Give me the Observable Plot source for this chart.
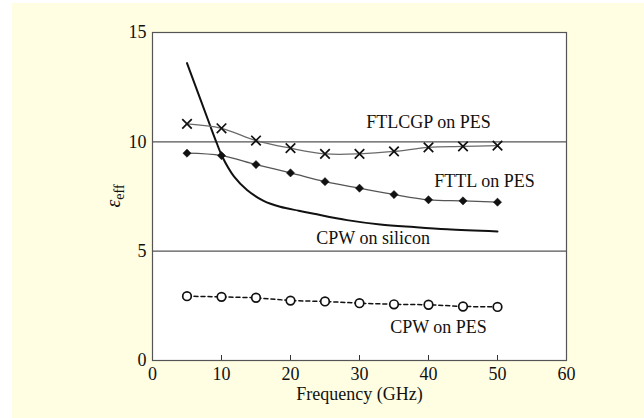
<!DOCTYPE html>
<html>
<head>
<meta charset="utf-8">
<script src="https://cdn.jsdelivr.net/npm/d3@7"></script>
<script src="https://cdn.jsdelivr.net/npm/@observablehq/plot@0.6"></script>
<style>
  html, body { margin: 0; padding: 0; background: #ffffff; }
  #chart { position: absolute; left: 12px; top: 3px; width: 632px; height: 415px; background: #fffee3; }
  #chart svg { display: block; }
</style>
</head>
<body>
<div id="chart"></div>
<script>
// Effective permittivity of the transmission lines versus frequency
const freq = [5, 10, 15, 20, 25, 30, 35, 40, 45, 50];
const ftlcgpPES = [10.82, 10.62, 10.06, 9.71, 9.45, 9.45, 9.56, 9.75, 9.79, 9.83];
const fttlPES = [9.48, 9.37, 8.96, 8.58, 8.18, 7.88, 7.59, 7.35, 7.30, 7.24];
const cpwPES = [2.94, 2.91, 2.87, 2.74, 2.70, 2.62, 2.57, 2.55, 2.47, 2.45];

// CPW on silicon is a continuous curve without markers
const siliconFreq = [5, 7, 8.4, 9.3, 10.1, 11.8, 13.7, 16.1, 18.5, 21.2, 23.4, 28.2, 33, 37.9, 42.7, 50];
const siliconEps = [13.6, 11.9, 10.7, 9.95, 9.33, 8.42, 7.80, 7.30, 7.03, 6.85, 6.71, 6.42, 6.22, 6.10, 6.0, 5.9];

const xTicks = [0, 10, 20, 30, 40, 50, 60];
const yTicks = [0, 5, 10, 15];
const gridValues = [5, 10];
const xTitle = "Frequency (GHz)";

const rows = (ys) => freq.map((f, i) => ({f, v: ys[i]}));
const ftlcgp = rows(ftlcgpPES);
const fttl = rows(fttlPES);
const cpw = rows(cpwPES);
const silicon = siliconFreq.map((f, i) => ({f, v: siliconEps[i]}));

// series labels, each placed next to one of its own points
const labelAt = (data, f, text) => [{...data.find(d => d.f === f), text}];

const plot = Plot.plot({
  width: 632,
  height: 415,
  marginLeft: 140,
  marginRight: 78,
  marginTop: 29,
  marginBottom: 58,
  style: {fontFamily: "'Liberation Serif', 'Times New Roman', serif", fontSize: "18px", background: "transparent", color: "#111"},
  x: {domain: [0, 60], ticks: xTicks},
  y: {domain: [0, 15], ticks: yTicks},
  marks: [
    Plot.frame({fill: "white"}),
    Plot.ruleY(gridValues, {stroke: "#555", strokeWidth: 1.1}),
    Plot.ruleX(xTicks.slice(1, -1), {x: d => d, y1: 0, y2: 0, insetTop: -5, stroke: "#333"}),
    Plot.axisX({ticks: xTicks, tickSize: 0, tickPadding: 7, label: null, fill: "#111"}),
    Plot.axisY({ticks: yTicks, tickSize: 0, tickPadding: 6, label: null, fill: "#111"}),
    Plot.text([xTitle], {frameAnchor: "bottom", dy: 39, text: d => d, fill: "#111"}),

    // CPW on silicon
    Plot.line(silicon, {x: "f", y: "v", curve: "catmull-rom", stroke: "#111", strokeWidth: 2}),

    // FTLCGP on PES
    Plot.line(ftlcgp, {x: "f", y: "v", curve: "catmull-rom", stroke: "#6a6a6a", strokeWidth: 1.3}),
    Plot.dot(ftlcgp, {x: "f", y: "v", symbol: "times", r: 4.4, stroke: "#111", strokeWidth: 1.7}),

    // FTTL on PES
    Plot.line(fttl, {x: "f", y: "v", curve: "catmull-rom", stroke: "#555", strokeWidth: 1.3}),
    Plot.dot(fttl, {x: "f", y: "v", symbol: "diamond2", r: 3.7, fill: "#111", stroke: "#111", strokeWidth: 0.5}),

    // CPW on PES
    Plot.line(cpw, {x: "f", y: "v", stroke: "#111", strokeWidth: 1.5, strokeDasharray: "4,3"}),
    Plot.dot(cpw, {x: "f", y: "v", r: 4.3, fill: "white", stroke: "#111", strokeWidth: 1.7}),

    Plot.frame({stroke: "#555", strokeWidth: 1.2}),

    Plot.text(labelAt(ftlcgp, 40, "FTLCGP on PES"), {x: "f", y: "v", text: "text", dy: -25, fill: "#111"}),
    Plot.text(labelAt(fttl, 50, "FTTL on PES"), {x: "f", y: "v", text: "text", dx: -13, dy: -21, fill: "#111"}),
    Plot.text(labelAt(silicon, 33, "CPW on silicon"), {x: "f", y: "v", text: "text", dx: -7, dy: 14, fill: "#111"}),
    Plot.text(labelAt(cpw, 40, "CPW on PES"), {x: "f", y: "v", text: "text", dx: 10, dy: 22, fill: "#111"})
  ]
});

// y-axis title: italic epsilon with an "eff" subscript
const svg = d3.select(plot);
const yScale = plot.scale("y");
const cy = (yScale.apply(0) + yScale.apply(15)) / 2;
const yTitle = svg.append("text")
  .attr("transform", `translate(108,${cy}) rotate(-90)`)
  .attr("text-anchor", "middle")
  .attr("fill", "#111")
  .style("font-size", "20px");
yTitle.append("tspan").style("font-style", "italic").text("ε");
yTitle.append("tspan").attr("dy", 4).style("font-size", "14px").text("eff");

document.getElementById("chart").appendChild(plot);
</script>
</body>
</html>
